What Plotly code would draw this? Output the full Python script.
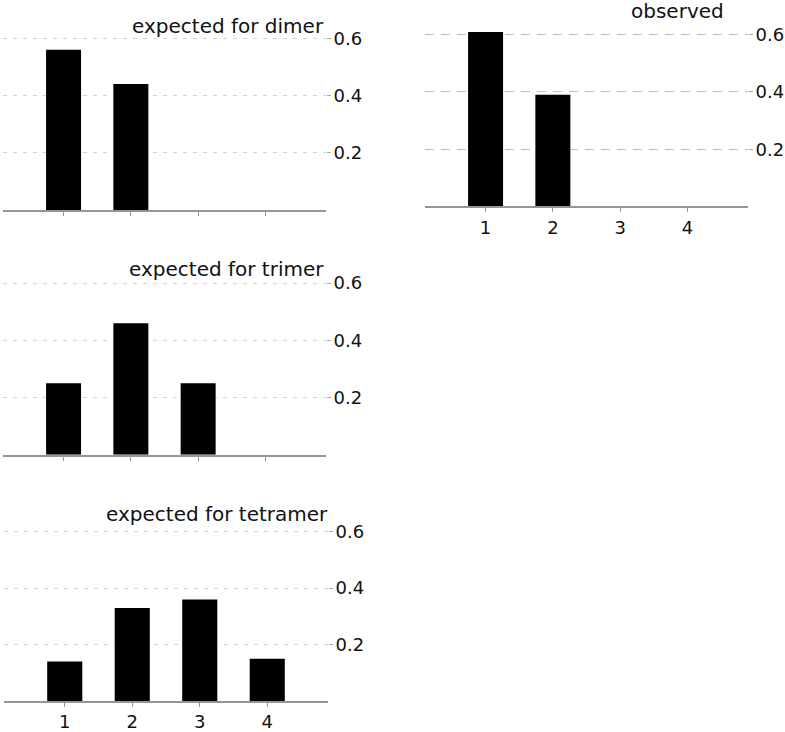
import plotly.graph_objects as go

categories = [1, 2, 3, 4]
dimer = [0.56, 0.44, 0, 0]
trimer = [0.25, 0.46, 0.25, 0]
tetramer = [0.14, 0.33, 0.36, 0.15]
observed = [0.61, 0.39, 0, 0]
titles = ["expected for dimer", "observed", "expected for trimer", "expected for tetramer"]
y_ticks = [0.2, 0.4, 0.6]
y_tick_text = ["0.2", "0.4", "0.6"]

W, H = 785, 732
FONT = "DejaVu Sans"

def px_x(a, b):
    return [a / W, b / W]

def px_y(top, bottom):
    return [(H - bottom) / H, (H - top) / H]

# panel geometry in pixels: (x0, x1, top, bottom)
panels = [
    (3, 326, 24, 210.5),      # dimer
    (425, 748, 20.5, 207),    # observed
    (3, 326, 269.5, 456),     # trimer
    (4, 328, 519, 703),       # tetramer
]
series = [dimer, observed, trimer, tetramer]
show_x_labels = [False, True, False, True]
grid_dash = ["4px,6px", "9px,7px", "4px,6px", "4px,6px"]
grid_color = ["#d2d2d2", "#c0c0c0", "#d2d2d2", "#d2d2d2"]

fig = go.Figure()
layout = dict(
    width=W, height=H,
    margin=dict(l=0, r=0, t=0, b=0),
    paper_bgcolor="white", plot_bgcolor="white",
    showlegend=False,
    font=dict(family=FONT, size=18, color="#111"),
)

for i, (vals, (x0, x1, top, bottom)) in enumerate(zip(series, panels)):
    n = "" if i == 0 else str(i + 1)
    fig.add_trace(go.Bar(
        x=categories, y=vals,
        xaxis="x" + n, yaxis="y" + n,
        width=0.52,
        marker=dict(color="black", line=dict(width=0)),
    ))
    layout["xaxis" + n] = dict(
        domain=px_x(x0, x1), anchor="y" + n,
        range=[0.1, 4.9], tickvals=categories,
        ticktext=[str(c) for c in categories],
        showticklabels=show_x_labels[i],
        showline=True, linecolor="#959595", linewidth=1.5,
        ticks="outside", ticklen=4, tickcolor="#959595", tickwidth=1,
        showgrid=False, zeroline=False,
        tickfont=dict(family=FONT, size=18, color="#111"),
        fixedrange=True,
    )
    layout["yaxis" + n] = dict(
        domain=px_y(top, bottom), anchor="x" + n,
        side="right", range=[0, 0.65],
        tickvals=y_ticks, ticktext=y_tick_text,
        ticks="outside", ticklen=4, tickcolor="#aaaaaa",
        ticklabelstandoff=-1,
        showgrid=True, gridcolor=grid_color[i], griddash=grid_dash[i], gridwidth=1,
        showline=False, zeroline=False,
        tickfont=dict(family=FONT, size=18, color="#111"),
        fixedrange=True,
    )

# titles (right edge x px, center y px)
title_pos = [(326, 26), (726, 11), (326, 270), (330, 515)]
annotations = []
for t, (xr, yc) in zip(titles, title_pos):
    annotations.append(dict(
        text=t, x=xr / W, y=(H - yc) / H, xref="paper", yref="paper",
        xanchor="right", yanchor="middle", showarrow=False,
        font=dict(family=FONT, size=20, color="#111"),
    ))
layout["annotations"] = annotations

fig.update_layout(**layout)
fig.write_html(
    "out.html",
    config={"displayModeBar": False},
    post_script="document.body.style.margin='0';document.body.style.overflow='hidden';",
)
